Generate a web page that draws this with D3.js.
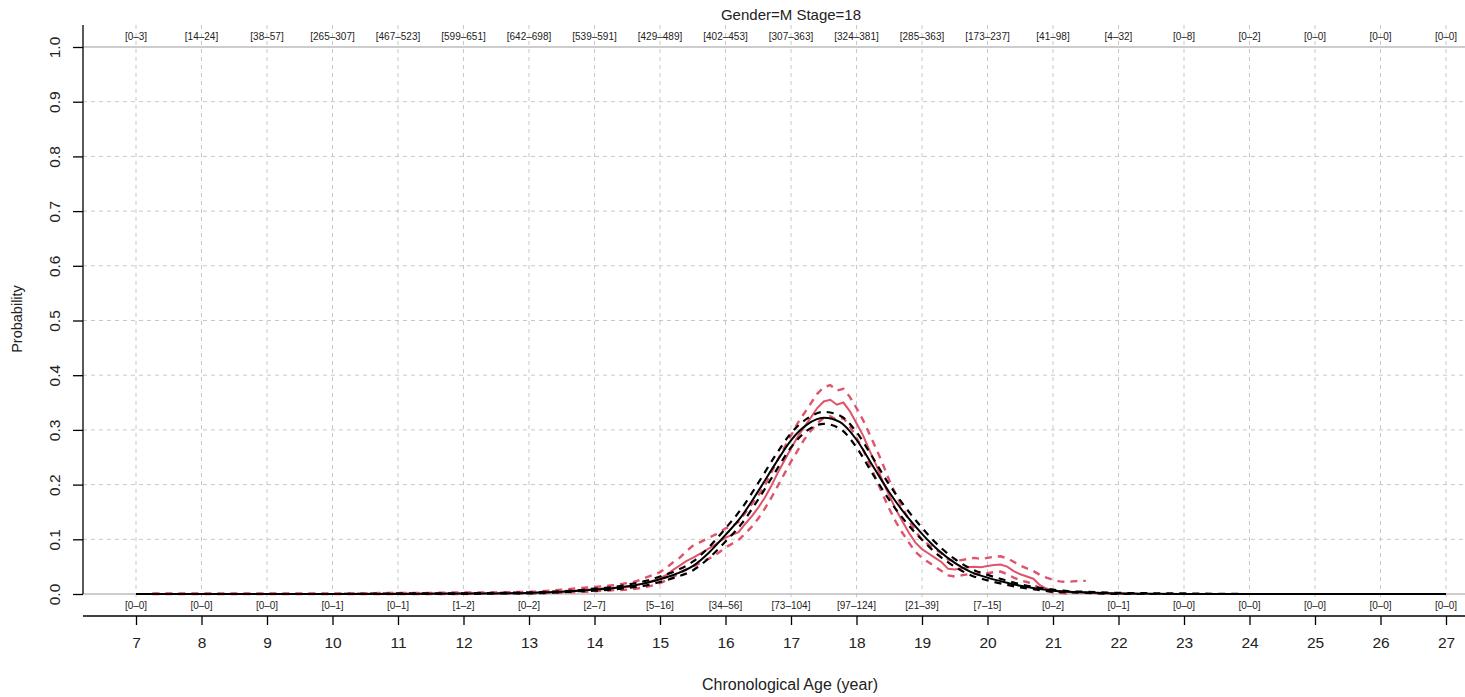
<!DOCTYPE html>
<html>
<head>
<meta charset="utf-8">
<script src="https://cdn.jsdelivr.net/npm/d3@7"></script>
<style>
  body { margin: 0; background: #fff; }
  text { font-family: "Liberation Sans", Arial, sans-serif; fill: #222; }
</style>
</head>
<body>
<script>
/* Data */
const ages = d3.range(7, 28);
const topLabels = ["[0–3]", "[14–24]", "[38–57]", "[265–307]", "[467–523]", "[599–651]", "[642–698]",
  "[539–591]", "[429–489]", "[402–453]", "[307–363]", "[324–381]", "[285–363]", "[173–237]",
  "[41–98]", "[4–32]", "[0–8]", "[0–2]", "[0–0]", "[0–0]", "[0–0]"];
const bottomLabels = ["[0–0]", "[0–0]", "[0–0]", "[0–1]", "[0–1]", "[1–2]", "[0–2]", "[2–7]",
  "[5–16]", "[34–56]", "[73–104]", "[97–124]", "[21–39]", "[7–15]", "[0–2]", "[0–1]",
  "[0–0]", "[0–0]", "[0–0]", "[0–0]", "[0–0]"];
const yTicks = [0, 0.1, 0.2, 0.3, 0.4, 0.5, 0.6, 0.7, 0.8, 0.9, 1.0];

// model curve (black)
const blackAge = [7, 8, 9, 10, 11, 12, 12.5,
  13, 13.25, 13.5, 13.75, 14, 14.25, 14.5, 14.75, 15, 15.25, 15.5, 15.75, 16, 16.25, 16.5, 16.75,
  17, 17.25, 17.5, 17.75, 18, 18.25, 18.5, 18.75, 19, 19.25, 19.5, 19.75, 20, 20.25, 20.5, 20.75,
  21, 21.25, 21.5, 22, 23, 24, 25, 26, 27];
const blackMid = [0, 0, 0, 0, 0, 0.001, 0.001,
  .002, .003, .004, .006, .008, .010, .014, .019, .027, .037, .051, .076, .108, .143, .188, .236,
  .281, .310, .322, .314, .282, .234, .186, .145, .110, .080, .057, .040, .030, .022, .015, .010,
  .006, .004, .003, .001, 0, 0, 0, 0, 0];
const blackUpper = [0, 0, 0, 0, 0.001, 0.001, 0.002,
  .003, .004, .005, .007, .010, .012, .017, .023, .032, .043, .059, .086, .120, .157, .203, .251,
  .294, .321, .333, .326, .296, .249, .200, .158, .121, .089, .064, .046, .035, .026, .018, .012,
  .008, .005, .004, .002, 0.001, 0, 0, 0, 0];
const blackLower = [0, 0, 0, 0, 0, 0, 0.001,
  .001, .002, .003, .005, .006, .008, .011, .015, .022, .031, .043, .066, .096, .129, .173, .221,
  .268, .299, .311, .302, .268, .219, .172, .132, .099, .071, .050, .034, .025, .018, .012, .008,
  .004, .003, .002, 0, 0, 0, 0, 0, 0];

// observed curve (red), sampled every 0.1 year from 13.0
const redHeadAge = [7.25, 8, 9, 10, 11, 11.5, 12, 12.5];
const redHeadMid = [0, 0, 0, 0, 0.001, 0.001, 0.001, 0.002];
const redHeadUpper = [0.001, 0.001, 0.001, 0.001, 0.002, 0.002, 0.003, 0.003];
const redHeadLower = [0, 0, 0, 0, 0, 0, 0, 0.001];
const redMid = [
  .002, .002, .003, .003, .004, .004, .005, .006, .007, .008,
  .009, .010, .010, .011, .012, .013, .015, .018, .021, .025,
  .029, .035, .044, .052, .060, .066, .073, .080, .087, .095,
  .103, .108, .113, .128, .142, .158, .176, .198, .222, .244,
  .266, .287, .305, .322, .340, .352, .355, .346, .350, .334,
  .312, .290, .262, .236, .206, .180, .155, .133, .112, .094,
  .082, .074, .066, .058, .046, .045, .047, .049, .050, .049,
  .051, .053, .054, .050, .042, .036, .032, .028, .016, .010,
  .006, .005, .004, .003, .003, .002, .002, .001, .001, .001,
  .001, .001, .001, 0, 0];
const redUpper = [
  .004, .004, .005, .006, .007, .008, .009, .010, .011, .012,
  .013, .014, .015, .016, .018, .020, .022, .026, .031, .035,
  .040, .048, .058, .066, .078, .088, .094, .100, .106, .112,
  .120, .124, .132, .148, .164, .180, .198, .222, .246, .268,
  .290, .312, .330, .348, .366, .378, .382, .372, .375, .360,
  .340, .318, .292, .266, .238, .208, .182, .158, .135, .114,
  .100, .090, .082, .074, .063, .060, .062, .064, .066, .064,
  .066, .068, .069, .065, .059, .052, .047, .042, .035, .030,
  .026, .023, .022, .023, .024, .024];
const redLower = [
  .001, .001, .001, .002, .002, .002, .003, .003, .004, .004,
  .005, .006, .006, .007, .007, .008, .009, .011, .013, .016,
  .020, .025, .031, .038, .045, .050, .056, .062, .068, .076,
  .085, .092, .099, .110, .123, .138, .156, .176, .198, .220,
  .242, .262, .282, .298, .312, .322, .325, .318, .322, .306,
  .286, .264, .236, .210, .182, .156, .132, .112, .094, .077,
  .066, .058, .050, .042, .034, .032, .034, .036, .037, .036,
  .038, .040, .041, .036, .030, .025, .022, .018, .010, .006,
  .003, .002, .001, 0];

/* Layout */
const W = 1465, H = 697;
const PLOT = { left: 83, right: 1499, top: 25, bottom: 600 };
const RED = "#DF536B";

const svg = d3.select("body").append("svg")
  .attr("width", W)
  .attr("height", H);

/* Scales */
const xScale = d3.scaleLinear().domain([7, 27]).range([136, 1446]);
const yScale = d3.scaleLinear().domain([0, 1]).range([594, 47]);

/* Grid */
svg.append("g").selectAll("line")
  .data(ages)
  .enter().append("line")
  .attr("x1", d => xScale(d)).attr("x2", d => xScale(d))
  .attr("y1", PLOT.top).attr("y2", PLOT.bottom)
  .attr("stroke", "#c8c8c8").attr("stroke-width", 1)
  .attr("stroke-dasharray", "4,4");

svg.append("g").selectAll("line")
  .data(yTicks)
  .enter().append("line")
  .attr("x1", PLOT.left).attr("x2", PLOT.right)
  .attr("y1", d => yScale(d)).attr("y2", d => yScale(d))
  .attr("stroke", d => (d === 0 || d === 1) ? "#bdbdbd" : "#c8c8c8")
  .attr("stroke-width", d => (d === 0 || d === 1) ? 1.5 : 1)
  .attr("stroke-dasharray", d => (d === 0 || d === 1) ? null : "4,4");

/* Curves */
const line = d3.line()
  .x(d => xScale(d[0]))
  .y(d => yScale(d[1]));
const smooth = d3.line()
  .x(d => xScale(d[0]))
  .y(d => yScale(d[1]))
  .curve(d3.curveMonotoneX);

const redAge = redHeadAge.concat(d3.range(0, redMid.length).map(i => 13 + i / 10));
const zipRed = (head, body) => head.concat(body).map((v, i) => [redAge[i], v]);
const zipBlack = vals => vals.map((v, i) => [blackAge[i], v]);

svg.append("path").datum(zipRed(redHeadUpper, redUpper))
  .attr("d", line).attr("fill", "none").attr("stroke", RED)
  .attr("stroke-width", 2.4).attr("stroke-dasharray", "7,6");
svg.append("path").datum(zipRed(redHeadLower, redLower))
  .attr("d", line).attr("fill", "none").attr("stroke", RED)
  .attr("stroke-width", 2.4).attr("stroke-dasharray", "7,6");
svg.append("path").datum(zipRed(redHeadMid, redMid))
  .attr("d", line).attr("fill", "none").attr("stroke", RED)
  .attr("stroke-width", 2);

svg.append("path").datum(zipBlack(blackUpper))
  .attr("d", smooth).attr("fill", "none").attr("stroke", "#000")
  .attr("stroke-width", 2.2).attr("stroke-dasharray", "7,6");
svg.append("path").datum(zipBlack(blackLower))
  .attr("d", smooth).attr("fill", "none").attr("stroke", "#000")
  .attr("stroke-width", 2.2).attr("stroke-dasharray", "7,6");
svg.append("path").datum(zipBlack(blackMid))
  .attr("d", smooth).attr("fill", "none").attr("stroke", "#000")
  .attr("stroke-width", 2);

/* Count labels */
svg.append("g").selectAll("text")
  .data(ages)
  .enter().append("text")
  .attr("x", d => xScale(d)).attr("y", 40)
  .attr("text-anchor", "middle")
  .style("font-size", "10px")
  .text((d, i) => topLabels[i]);

svg.append("g").selectAll("text")
  .data(ages)
  .enter().append("text")
  .attr("x", d => xScale(d)).attr("y", 609)
  .attr("text-anchor", "middle")
  .style("font-size", "10px")
  .text((d, i) => bottomLabels[i]);

/* Axes */
const xAxis = d3.axisBottom(xScale).tickValues(ages).tickSize(9).tickPadding(12).tickSizeOuter(0);
const gx = svg.append("g")
  .attr("transform", "translate(0,616)")
  .call(xAxis);
gx.select(".domain").remove();
gx.append("line").attr("x1", PLOT.left).attr("x2", PLOT.right)
  .attr("stroke", "#000").attr("stroke-width", 1.3);
gx.selectAll(".tick line").attr("stroke-width", 1.3);
gx.selectAll(".tick text").style("font-size", "15.5px").style("font-family", "Liberation Sans, Arial, sans-serif").attr("fill", "#222");

const yAxis = d3.axisLeft(yScale).tickValues(yTicks).tickFormat(d3.format(".1f")).tickSize(10).tickSizeOuter(0);
const gy = svg.append("g")
  .attr("transform", "translate(" + PLOT.left + ",0)")
  .call(yAxis);
gy.select(".domain").remove();
gy.append("line").attr("y1", PLOT.top).attr("y2", 594)
  .attr("stroke", "#000").attr("stroke-width", 1.3);
gy.selectAll(".tick line").attr("stroke-width", 1.3);
gy.selectAll(".tick text")
  .attr("x", 0).attr("dy", null)
  .attr("transform", "translate(-29,0) rotate(-90)")
  .attr("text-anchor", "middle")
  .attr("dominant-baseline", "central")
  .attr("fill", "#222")
  .style("font-size", "15.5px").style("font-family", "Liberation Sans, Arial, sans-serif");

/* Titles */
svg.append("text")
  .attr("x", 791).attr("y", 20)
  .attr("text-anchor", "middle")
  .style("font-size", "15px")
  .text("Gender=M Stage=18");

svg.append("text")
  .attr("x", 790).attr("y", 690)
  .attr("text-anchor", "middle")
  .style("font-size", "16px")
  .text("Chronological Age (year)");

svg.append("text")
  .attr("transform", "translate(22,319) rotate(-90)")
  .attr("text-anchor", "middle")
  .style("font-size", "14.5px")
  .text("Probability");
</script>
</body>
</html>
